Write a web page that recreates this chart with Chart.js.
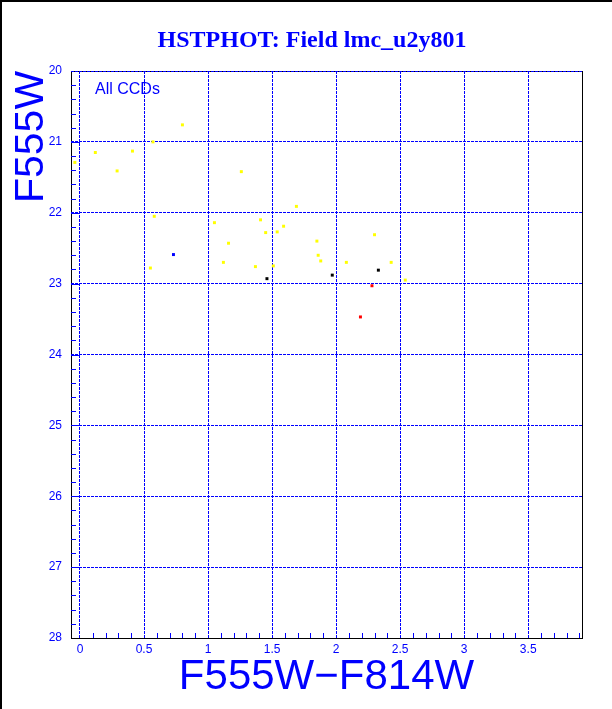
<!DOCTYPE html>
<html>
<head>
<meta charset="utf-8">
<script src="https://cdn.jsdelivr.net/npm/chart.js@4.4.1/dist/chart.umd.min.js"></script>
<style>
    html, body { margin: 0; padding: 0; background: #fff; }
    canvas { display: block; }
</style>
</head>
<body>
<canvas id="cmd" width="612" height="709"></canvas>
<script>
// ----------------- Data (colour F555W-F814W vs magnitude F555W) -----------------
const yellowX = [0.80, 0.57, 0.12, 0.41, 0.29, 1.26, -0.04, 0.58, 1.05, 1.16, 1.12, 0.55, 1.69,
                 1.41, 1.59, 1.45, 1.54, 2.30, 1.85, 1.86, 1.88, 2.08, 2.43, 1.37, 1.51, 2.54];
const yellowY = [20.76, 21.00, 21.15, 21.13, 21.41, 21.42, 21.29, 22.05, 22.14, 22.43, 22.70, 22.78, 21.91,
                 22.10, 22.19, 22.28, 22.27, 22.31, 22.40, 22.60, 22.68, 22.70, 22.70, 22.76, 22.75, 22.95];
const blueX = [0.73];
const blueY = [22.59];
const blackX = [1.46, 1.97, 2.33];
const blackY = [22.93, 22.88, 22.81];
const redX = [2.28, 2.19];
const redY = [23.03, 23.47];

const xTickLabels = [0, 0.5, 1, 1.5, 2, 2.5, 3, 3.5];
const yTickLabels = [20, 21, 22, 23, 24, 25, 26, 27, 28];

const BLUE = '#0000ff';

function toPoints(xs, ys) {
    return xs.map((x, i) => ({ x: x, y: ys[i] }));
}

// ----------------- Frame, minor ticks and texts -----------------
const decorPlugin = {
    id: 'decor',
    beforeDraw(chart) {
        const ctx = chart.ctx, a = chart.chartArea;
        ctx.save();
        ctx.fillStyle = '#fff';
        ctx.fillRect(0, 0, chart.width, chart.height);
        ctx.fillStyle = '#000';
        ctx.fillRect(0, 0, chart.width, 2);
        ctx.fillRect(0, 0, 2, chart.height);
        ctx.strokeStyle = '#000';
        ctx.lineWidth = 1;
        ctx.strokeRect(a.left + 0.5, a.top + 0.5, a.right - a.left, a.bottom - a.top);
        ctx.restore();
    },
    beforeDatasetsDraw(chart) {
        const ctx = chart.ctx, a = chart.chartArea;
        const xs = chart.scales.x, ys = chart.scales.y;
        ctx.save();
        ctx.strokeStyle = BLUE;
        ctx.lineWidth = 1;
        ctx.beginPath();
        // minor x ticks every 0.1
        for (let i = 1; i < 40; i++) {
            if (i % 5 === 0) continue;
            const px = Math.round(xs.getPixelForValue(i / 10)) + 0.5;
            ctx.moveTo(px, a.bottom);
            ctx.lineTo(px, a.bottom - 5);
        }
        // y ticks every 0.2, longer at whole magnitudes
        for (let i = 1; i < 40; i++) {
            const v = 20 + i * 0.2;
            const py = Math.round(ys.getPixelForValue(v)) + 0.5;
            const len = (i % 5 === 0) ? 9 : 5;
            ctx.moveTo(a.left, py);
            ctx.lineTo(a.left + len, py);
        }
        ctx.stroke();
        ctx.restore();
    },
    afterDraw(chart) {
        const ctx = chart.ctx, a = chart.chartArea;
        ctx.save();
        ctx.fillStyle = BLUE;
        ctx.textBaseline = 'alphabetic';

        ctx.font = 'bold 24px "Liberation Serif", serif';
        ctx.textAlign = 'center';
        ctx.fillText('HSTPHOT: Field lmc_u2y801', 312, 47);

        ctx.font = '42px "Liberation Sans", sans-serif';
        ctx.fillText('F555W\u2212F814W', (a.left + a.right) / 2, 689);

        ctx.save();
        ctx.translate(43, 137);
        ctx.rotate(-Math.PI / 2);
        ctx.font = '41px "Liberation Sans", sans-serif';
        ctx.fillText('F555W', 0, 0);
        ctx.restore();

        ctx.font = '16px "Liberation Sans", sans-serif';
        ctx.textAlign = 'left';
        ctx.fillText('All CCDs', 95, 94);
        ctx.restore();
    }
};

// ----------------- Chart -----------------
const pointStyle = { pointStyle: 'rect', pointRadius: 2.1, borderWidth: 0, showLine: false };

new Chart(document.getElementById('cmd').getContext('2d'), {
    type: 'scatter',
    data: {
        datasets: [
            { label: 'yellow', data: toPoints(yellowX, yellowY), backgroundColor: '#ffff00', ...pointStyle },
            { label: 'blue', data: toPoints(blueX, blueY), backgroundColor: '#0000ff', ...pointStyle },
            { label: 'black', data: toPoints(blackX, blackY), backgroundColor: '#000000', ...pointStyle },
            { label: 'red', data: toPoints(redX, redY), backgroundColor: '#ff0000', ...pointStyle }
        ]
    },
    options: {
        responsive: false,
        animation: false,
        events: [],
        layout: { padding: { top: 71, right: 30, left: 0, bottom: 0 } },
        plugins: {
            legend: { display: false },
            title: { display: false },
            tooltip: { enabled: false }
        },
        scales: {
            x: {
                type: 'linear',
                min: -0.07,
                max: 3.92,
                afterFit: (scale) => { scale.height = 71; },
                afterBuildTicks: (scale) => { scale.ticks = xTickLabels.map(v => ({ value: v })); },
                grid: { color: BLUE, lineWidth: 1, drawTicks: false },
                border: { display: false, dash: [3, 1] },
                ticks: {
                    color: BLUE,
                    padding: 4,
                    autoSkip: false,
                    maxRotation: 0,
                    font: { family: '"Liberation Sans", sans-serif', size: 12 },
                    callback: (v) => String(v)
                }
            },
            y: {
                type: 'linear',
                reverse: true,
                min: 20,
                max: 28,
                afterFit: (scale) => { scale.width = 71; },
                afterBuildTicks: (scale) => { scale.ticks = yTickLabels.map(v => ({ value: v })); },
                grid: {
                    color: (c) => (c.tick && c.tick.value === 28) ? 'rgba(0,0,0,0)' : BLUE,
                    lineWidth: 1,
                    drawTicks: false
                },
                border: { display: false, dash: [3, 1] },
                ticks: {
                    color: BLUE,
                    padding: 9,
                    autoSkip: false,
                    font: { family: '"Liberation Sans", sans-serif', size: 12 },
                    callback: (v) => String(v)
                }
            }
        }
    },
    plugins: [decorPlugin]
});
</script>
</body>
</html>
